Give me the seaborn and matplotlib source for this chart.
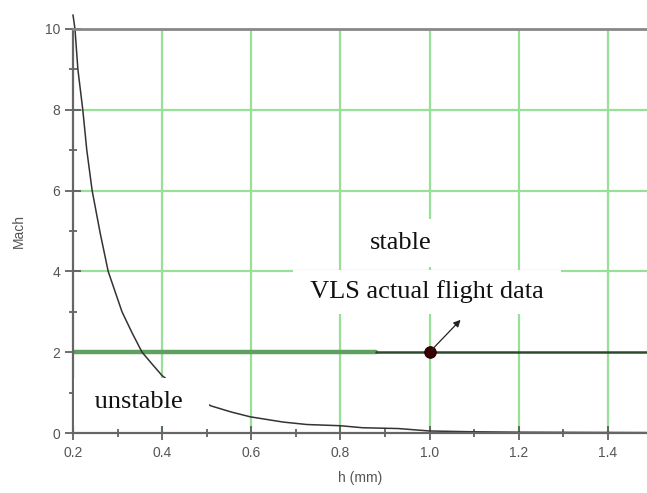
import numpy as np
import pandas as pd
import matplotlib
matplotlib.use("Agg")
import matplotlib.pyplot as plt
import seaborn as sns

# stability boundary (h in mm, Mach)
h_vals = [0.200, 0.2045, 0.211, 0.222, 0.231, 0.243, 0.261, 0.279, 0.310,
          0.333, 0.355, 0.378, 0.400, 0.450, 0.510, 0.555, 0.598, 0.672,
          0.725, 0.800, 0.850, 0.930, 1.000, 1.100, 1.200, 1.488]
mach_vals = [10.35, 10.0, 9.0, 8.0, 7.0, 6.0, 4.95, 4.0, 3.0,
             2.47, 2.0, 1.70, 1.42, 1.00, 0.67, 0.52, 0.40, 0.27,
             0.21, 0.18, 0.13, 0.11, 0.05, 0.03, 0.02, 0.01]

# VLS flight point and Mach 2 line
flight_h = [1.0]
flight_mach = [2.0]
mach2_left = [0.2, 0.88]
mach2_right = [0.88, 1.488]

xticks = [0.2, 0.4, 0.6, 0.8, 1.0, 1.2, 1.4]
yticks = [0, 2, 4, 6, 8, 10]

sns.set_style("white")
plt.rcParams["font.family"] = ["Liberation Sans", "DejaVu Sans"]

fig = plt.figure(figsize=(6.47, 4.93), dpi=100)
ax = fig.add_axes([0.1128, 0.1217, 0.8872, 0.8195])

ax.set_xlim(0.2, 1.488)
ax.set_ylim(0, 10)

# green grid
for x in xticks[1:]:
    ax.axvline(x, color="#98df98", lw=1.6, zorder=0)
for y in [4, 6, 8]:
    ax.axhline(y, color="#98df98", lw=1.6, zorder=0)

# Mach 2 line
sns.lineplot(x=mach2_left, y=[2, 2], ax=ax, color="#5f9f5f", lw=3.2, zorder=1)
sns.lineplot(x=mach2_right, y=[2, 2], ax=ax, color="#2e4a2e", lw=1.8, zorder=1)

# boundary curve
curve = pd.DataFrame({"h": h_vals, "mach": mach_vals})
sns.lineplot(data=curve, x="h", y="mach", ax=ax, color="#333333", lw=1.1,
             sort=False, zorder=2, clip_on=False)

# flight point
sns.scatterplot(x=flight_h, y=flight_mach, ax=ax, color="#3a0000", s=70,
                edgecolor="#1a0000", zorder=5)
ax.annotate("", xy=(1.074, 2.85), xytext=(1.0, 2.0),
            arrowprops=dict(arrowstyle="-|>", color="#222222", lw=0.9,
                            mutation_scale=10), zorder=5)

tfont = dict(family="Liberation Serif", fontsize=19, color="#111111")
ax.text(0.936, 4.7, "stable", ha="center", va="center", zorder=6,
        bbox=dict(boxstyle="square,pad=0.5", fc="white", ec="none"), **tfont)
ax.text(0.994, 3.5, " VLS actual flight data ", ha="center", va="center", zorder=6,
        bbox=dict(boxstyle="square,pad=0.4", fc="white", ec="none"), **tfont)
ax.text(0.354, 0.77, " unstable  ", ha="center", va="center", zorder=6,
        bbox=dict(boxstyle="square,pad=0.5", fc="white", ec="none"), **tfont)

# axes styling
ax.set_xticks(xticks)
ax.set_xticklabels(["0.2", "0.4", "0.6", "0.8", "1.0", "1.2", "1.4"])
ax.set_yticks(yticks)
ax.set_xticks([0.3, 0.5, 0.7, 0.9, 1.1, 1.3], minor=True)
ax.set_yticks([1, 3, 5, 7, 9], minor=True)
ax.tick_params(which="major", direction="inout", length=12, width=1.2,
               color="#555555", labelsize=10, labelcolor="#555555")
ax.tick_params(axis="x", which="major", length=10, pad=4)
ax.tick_params(axis="y", which="major", pad=3)
ax.tick_params(which="minor", direction="inout", length=6, width=1.2,
               color="#555555")
ax.tick_params(axis="both", which="both", bottom=True, left=True)

for side in ["left", "bottom"]:
    ax.spines[side].set_color("#666666")
    ax.spines[side].set_linewidth(1.6)
ax.spines["top"].set_color("#888888")
ax.spines["top"].set_linewidth(2)
ax.spines["right"].set_visible(False)

ax.set_xlabel("h (mm)", fontsize=10, color="#555555", labelpad=8)
ax.set_ylabel("Mach", fontsize=10, color="#555555", labelpad=14)

fig.savefig("out.png", dpi=100)
